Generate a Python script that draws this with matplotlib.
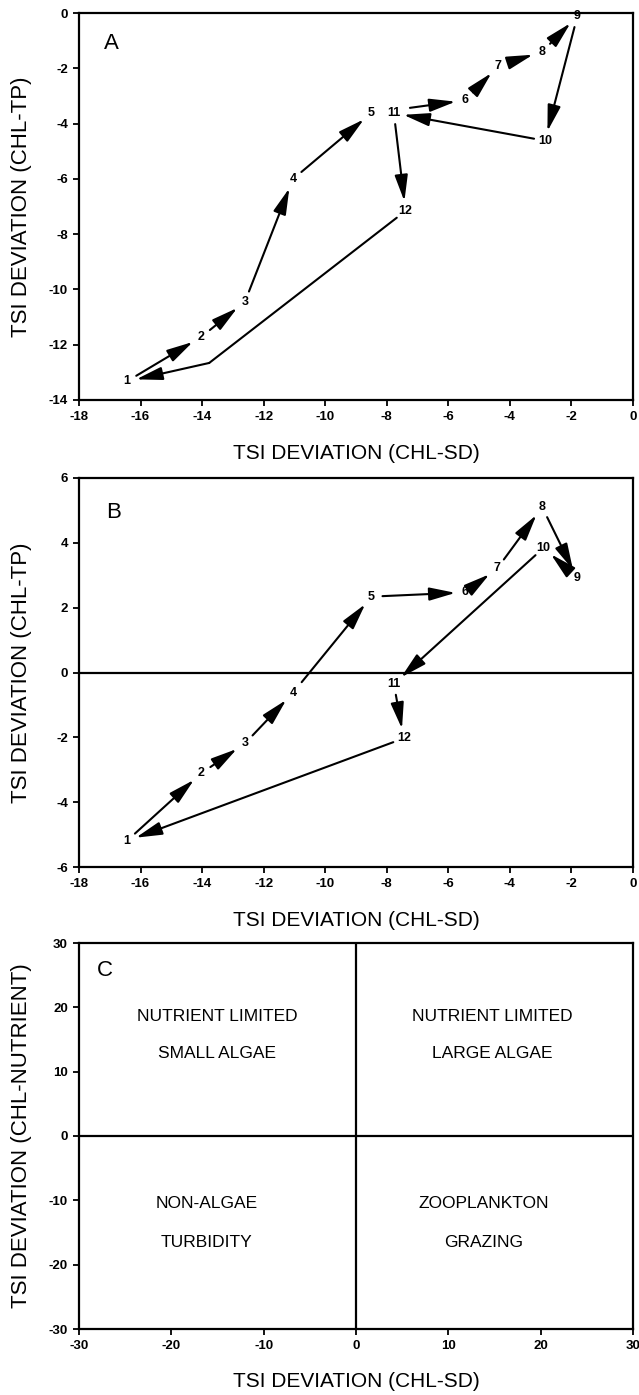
import numpy as np
import matplotlib
matplotlib.use("Agg")
import matplotlib.pyplot as plt

plt.rcParams['font.family'] = ['Liberation Sans', 'DejaVu Sans']
plt.rcParams['axes.unicode_minus'] = False

# month labels, one per point
MONTHS = [str(m) for m in range(1, 13)]

# panel A: TSI deviation CHL-SD (x) vs CHL-TP (y)
A_X = [-16.45, -14.03, -12.61, -11.05, -8.50, -5.45, -4.38, -2.95, -1.81, -2.86, -7.77, -7.39]
A_Y = [-13.33, -11.72, -10.45, -6.01, -3.62, -3.16, -1.92, -1.40, -0.12, -4.62, -3.62, -7.16]
# the 12 -> 1 return line bends here
A_BEND = (-13.77, -12.66)

# panel B: same x, CHL-TP deviation of the second series
B_X = [-16.45, -14.03, -12.61, -11.05, -8.50, -5.45, -4.41, -2.95, -1.81, -2.90, -7.77, -7.45]
B_Y = [-5.20, -3.11, -2.19, -0.63, 2.34, 2.47, 3.21, 5.10, 2.90, 3.85, -0.35, -2.03]

# panel C: quadrant interpretation
C_TEXT = ["NUTRIENT LIMITED", "SMALL ALGAE", "NUTRIENT LIMITED", "LARGE ALGAE",
          "NON-ALGAE", "TURBIDITY", "ZOOPLANKTON", "GRAZING"]
C_TEXT_X = [-15.0, -15.0, 14.8, 14.8, -16.2, -16.2, 13.8, 13.8]
C_TEXT_Y = [18.5, 12.8, 18.5, 12.8, -10.45, -16.6, -10.45, -16.6]

AB_XTICKS = list(range(-18, 1, 2))
A_YTICKS = list(range(-14, 1, 2))
B_YTICKS = list(range(-6, 7, 2))
C_TICKS = list(range(-30, 31, 10))

ARROW = '-|>,head_length=1.6,head_width=0.4'
LW = 1.5

W, H = 639, 1395
LEFT, RIGHT = 79, 633


def axes_rect(top, bottom):
    return [LEFT / W, 1 - bottom / H, (RIGHT - LEFT) / W, (bottom - top) / H]


def style_axes(ax, xlabel, ylabel, letter, letter_xy):
    for s in ax.spines.values():
        s.set_linewidth(1.6)
    ax.tick_params(direction='out', length=4, width=1.3, labelsize=9.5, pad=4)
    for lab in ax.get_xticklabels() + ax.get_yticklabels():
        lab.set_fontweight('bold')
    ax.set_xlabel(xlabel, fontsize=15, va='center')
    ax.xaxis.set_label_coords(0.5, -0.137)
    ax.set_ylabel(ylabel, fontsize=16, va='center')
    ax.yaxis.set_label_coords(-0.103, 0.5)
    ax.text(letter_xy[0], letter_xy[1], letter, fontsize=16, ha='center', va='center')


def draw_path(ax, xs, ys, shrink_a=None, shrink_b=None):
    n = len(xs)
    shrink_a = shrink_a or {}
    shrink_b = shrink_b or {}
    for i in range(n - 1):
        ax.annotate('', xy=(xs[i + 1], ys[i + 1]), xytext=(xs[i], ys[i]),
                    arrowprops=dict(arrowstyle=ARROW, lw=LW, color='k',
                                    shrinkA=shrink_a.get(i, 8), shrinkB=shrink_b.get(i, 7),
                                    mutation_scale=10))
    for x, y, m in zip(xs, ys, MONTHS):
        ax.text(x, y, m, fontsize=9, fontweight='bold', ha='center', va='center')


def main():
    fig = plt.figure(figsize=(W / 100, H / 100), dpi=100)

    # ---- A
    axA = fig.add_axes(axes_rect(13, 400))
    axA.set_xlim(-18, 0)
    axA.set_ylim(-14, 0)
    axA.set_xticks(AB_XTICKS)
    axA.set_yticks(A_YTICKS)
    draw_path(axA, A_X, A_Y, shrink_a={4: 28})
    # return leg 12 -> bend -> 1
    axA.annotate('', xy=A_BEND, xytext=(A_X[-1], A_Y[-1]),
                 arrowprops=dict(arrowstyle='-', lw=LW, color='k', shrinkA=8, shrinkB=0))
    axA.annotate('', xy=(A_X[0], A_Y[0]), xytext=A_BEND,
                 arrowprops=dict(arrowstyle=ARROW, lw=LW, color='k', shrinkA=0, shrinkB=7,
                                 mutation_scale=10))
    style_axes(axA, 'TSI DEVIATION (CHL-SD)', 'TSI DEVIATION (CHL-TP)', 'A', (-16.95, -1.1))

    # ---- B
    axB = fig.add_axes(axes_rect(478, 867))
    axB.set_xlim(-18, 0)
    axB.set_ylim(-6, 6)
    axB.set_xticks(AB_XTICKS)
    axB.set_yticks(B_YTICKS)
    axB.axhline(0, color='k', lw=1.6)
    draw_path(axB, B_X + [B_X[0]], B_Y + [B_Y[0]], shrink_a={3: 10})
    style_axes(axB, 'TSI DEVIATION (CHL-SD)', 'TSI DEVIATION (CHL-TP)', 'B', (-16.87, 4.95))

    # ---- C
    axC = fig.add_axes(axes_rect(943, 1329))
    axC.set_xlim(-30, 30)
    axC.set_ylim(-30, 30)
    axC.set_xticks(C_TICKS)
    axC.set_yticks(C_TICKS)
    axC.axhline(0, color='k', lw=1.6)
    axC.axvline(0, color='k', lw=1.6)
    for x, y, t in zip(C_TEXT_X, C_TEXT_Y, C_TEXT):
        axC.text(x, y, t, fontsize=12.5, ha='center', va='center')
    style_axes(axC, 'TSI DEVIATION (CHL-SD)', 'TSI DEVIATION (CHL-NUTRIENT)', 'C', (-27.2, 25.8))

    fig.savefig('out.png', dpi=100)
    plt.close(fig)


if __name__ == "__main__":
    main()
